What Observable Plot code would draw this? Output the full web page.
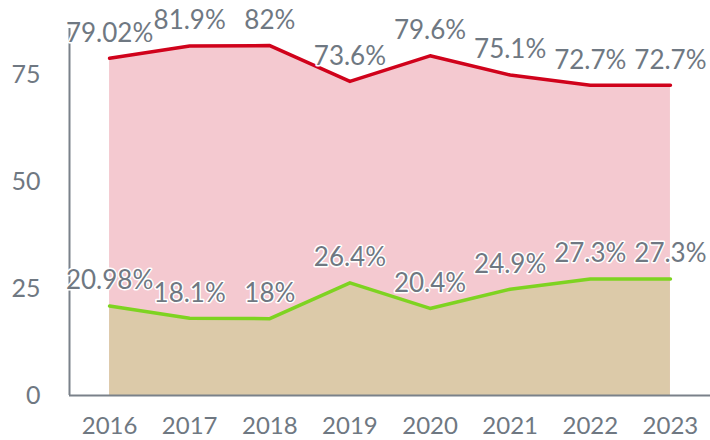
<!DOCTYPE html>
<html><head><meta charset="utf-8">
<script src="https://cdn.jsdelivr.net/npm/d3@7"></script>
<script src="https://cdn.jsdelivr.net/npm/@observablehq/plot@0.6"></script>
<style>body{margin:0;background:#fff;font-family:Lato,sans-serif}</style>
</head><body><div id="chart"></div>
<script>
const years = [2016, 2017, 2018, 2019, 2020, 2021, 2022, 2023];
const topSeries = [79.02, 81.9, 82, 73.6, 79.6, 75.1, 72.7, 72.7];
const bottomSeries = [20.98, 18.1, 18, 26.4, 20.4, 24.9, 27.3, 27.3];
const topLabels = ["79.02%", "81.9%", "82%", "73.6%", "79.6%", "75.1%", "72.7%", "72.7%"];
const bottomLabels = ["20.98%", "18.1%", "18%", "26.4%", "20.4%", "24.9%", "27.3%", "27.3%"];
const yTicks = [0, 25, 50, 75];

const topData = years.map((y, i) => ({year: y, v: topSeries[i], label: topLabels[i]}));
const botData = years.map((y, i) => ({year: y, v: bottomSeries[i], label: bottomLabels[i]}));
const gray = "#6f7882";

const chart = Plot.plot({
  width: 710, height: 440,
  marginLeft: 69, marginRight: 0, marginTop: 28, marginBottom: 45,
  style: {fontFamily: "Lato, sans-serif", background: "#fff"},
  x: {domain: [2015.5, 2023.5]},
  y: {domain: [0, 86]},
  marks: [
    Plot.areaY(topData, {x: "year", y: "v", fill: "#f4c9d0"}),
    Plot.areaY(botData, {x: "year", y: "v", fill: "#dccaa9"}),
    Plot.lineY(topData, {x: "year", y: "v", stroke: "#d0021b", strokeWidth: 3.5}),
    Plot.lineY(botData, {x: "year", y: "v", stroke: "#7ed321", strokeWidth: 3.5}),
    Plot.ruleX([2015.5], {y1: 0, y2: 86, stroke: "#7a818a", strokeWidth: 2}),
    Plot.ruleY([0], {stroke: "#7a818a", strokeWidth: 2}),
    Plot.axisX({ticks: years, tickSize: 0, tickPadding: 21, tickFormat: d => String(d), fontSize: 24, fill: gray, label: null}),
    Plot.axisY({ticks: yTicks, tickSize: 0, tickPadding: 29, fontSize: 25, fill: gray, label: null}),
    Plot.text(topData, {x: "year", y: "v", text: "label", dy: -25, fontSize: 26, fill: gray, stroke: "white", strokeWidth: 3}),
    Plot.text(botData, {x: "year", y: "v", text: "label", dy: -25, fontSize: 26, fill: gray, stroke: "white", strokeWidth: 3})
  ]
});
document.getElementById("chart").appendChild(chart);
</script></body></html>
